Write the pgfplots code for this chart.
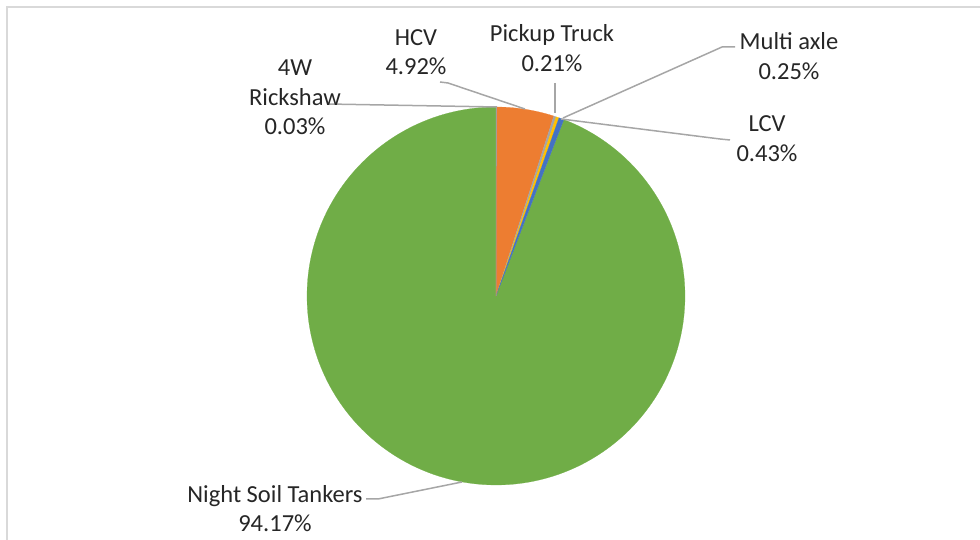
\documentclass[border=0pt]{standalone}
\usepackage{fontspec}
\setmainfont{Carlito}
\usepackage{pgfplots}
\pgfplotsset{compat=1.18}
\definecolor{cA}{HTML}{4472C4}
\definecolor{cB}{HTML}{ED7D31}
\definecolor{cC}{HTML}{A5A5A5}
\definecolor{cD}{HTML}{FFC000}
\definecolor{cE}{HTML}{4472C4}
\definecolor{cF}{HTML}{70AD47}
\definecolor{lead}{HTML}{A6A6A6}
\definecolor{txt}{HTML}{262626}
% data: shares in percent
\def\vA{0.03}  % 4W Rickshaw
\def\vB{4.92}  % HCV
\def\vC{0.21}  % Pickup Truck
\def\vD{0.25}  % Multi axle
\def\vE{0.43}  % LCV
\def\vF{94.17} % Night Soil Tankers
\pgfmathsetmacro\aA{90}
\pgfmathsetmacro\aB{\aA-3.6*\vA}
\pgfmathsetmacro\aC{\aB-3.6*\vB}
\pgfmathsetmacro\aD{\aC-3.6*\vC}
\pgfmathsetmacro\aE{\aD-3.6*\vD}
\pgfmathsetmacro\aF{\aE-3.6*\vE}
\pgfmathsetmacro\aG{\aF-3.6*\vF}
\def\cx{496}\def\cy{244}\def\R{189}
\begin{document}
\begin{tikzpicture}[font=\fontsize{24.5}{29.5}\selectfont]
\useasboundingbox (0,0) rectangle (980pt,540pt);
\begin{axis}[at={(0,0)}, anchor=south west, width=980pt, height=540pt, scale only axis,
  xmin=0, xmax=980, ymin=0, ymax=540, hide axis, clip=false]
\draw[color=black!15, line width=1.6pt] (axis cs:7,0) -- (axis cs:7,533) -- (axis cs:985,533);
\addplot[fill=cF, draw=cF, line width=0.2pt, domain=\aG:\aF, samples=240] ({\cx+\R*cos(x)},{\cy+\R*sin(x)}) -- (axis cs:\cx,\cy) -- cycle;
\addplot[fill=cB, draw=cB, line width=0.2pt, domain=\aC:\aB, samples=20] ({\cx+\R*cos(x)},{\cy+\R*sin(x)}) -- (axis cs:\cx,\cy) -- cycle;
\addplot[fill=cC, draw=cC, line width=0.2pt, domain=\aD:\aC, samples=3] ({\cx+\R*cos(x)},{\cy+\R*sin(x)}) -- (axis cs:\cx,\cy) -- cycle;
\addplot[fill=cD, draw=cD, line width=0.2pt, domain=\aE:\aD, samples=3] ({\cx+\R*cos(x)},{\cy+\R*sin(x)}) -- (axis cs:\cx,\cy) -- cycle;
\addplot[fill=cE, draw=cE, line width=0.2pt, domain=\aF:\aE, samples=3] ({\cx+\R*cos(x)},{\cy+\R*sin(x)}) -- (axis cs:\cx,\cy) -- cycle;
\addplot[fill=cA, draw=lead, line width=0.5pt, domain=\aB:\aA, samples=2] ({\cx+\R*cos(x)},{\cy+\R*sin(x)}) -- (axis cs:\cx,\cy) -- cycle;
% leader lines
\draw[lead, line width=1.5pt] (axis cs:327,436) -- (axis cs:497,433);
\draw[lead, line width=1.5pt] (axis cs:440,458) -- (axis cs:448,457) -- (axis cs:525,431);
\draw[lead, line width=1.5pt] (axis cs:555,457) -- (axis cs:555,427);
\draw[lead, line width=1.5pt] (axis cs:735,493) -- (axis cs:722,493) -- (axis cs:563,422);
\draw[lead, line width=1.5pt] (axis cs:730,400) -- (axis cs:720,401) -- (axis cs:561,421);
\draw[lead, line width=1.5pt] (axis cs:366,41) -- (axis cs:378,41) -- (axis cs:462,58);
% labels
\node[txt, align=center] at (axis cs:295,442.5) {4W\\Rickshaw\\0.03\%};
\node[txt, align=center] at (axis cs:416,488) {HCV\\4.92\%};
\node[txt, align=center] at (axis cs:552,492) {Pickup Truck\\0.21\%};
\node[txt, align=center] at (axis cs:789,484) {Multi axle\\0.25\%};
\node[txt, align=center] at (axis cs:767,401.5) {LCV\\0.43\%};
\node[txt, align=center] at (axis cs:275,31.5) {Night Soil Tankers\\94.17\%};
\end{axis}
\end{tikzpicture}
\end{document}
